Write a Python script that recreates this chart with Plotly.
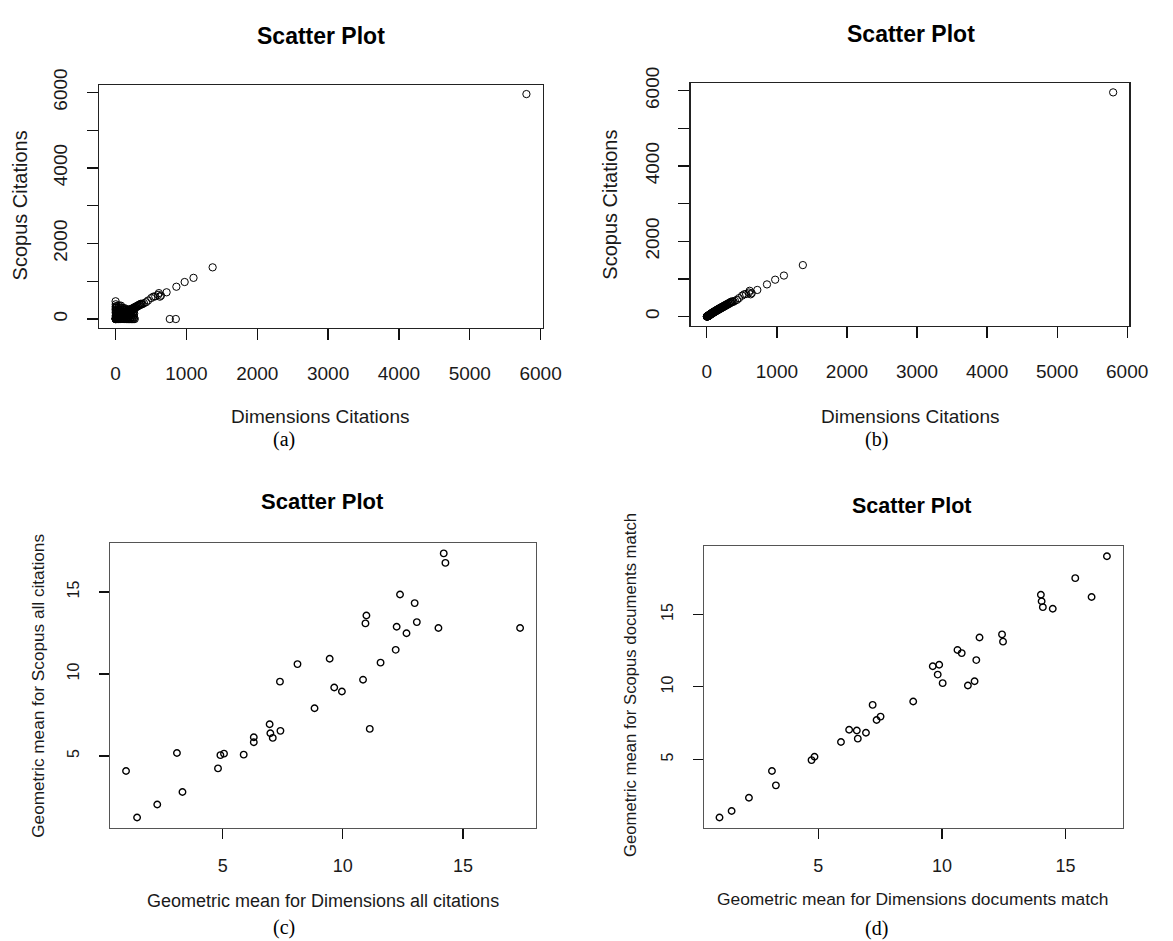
import plotly.graph_objects as go

# ---------------- DATA ----------------
# (b) documents matched in both sources: Dimensions vs Scopus citations
dim_match = [0, 1, 2, 3, 4, 5, 6, 7, 8, 9, 10, 11, 12, 13, 15, 16, 18, 19, 21, 22, 24, 25, 27, 28,
             30, 31, 33, 35, 36, 38, 40, 42, 44, 45, 47, 49, 51, 53, 55, 57, 60, 62, 64, 66, 69,
             71, 74, 76, 79, 81, 84, 87, 90, 93, 96, 99, 103, 106, 110, 113, 117, 120, 124, 128,
             132, 136, 140, 145, 150, 154, 159, 164, 169, 174, 180, 185, 191, 197, 203, 209, 216,
             222, 229, 236, 243, 250, 258, 265, 273, 281, 289, 297, 306, 314, 323, 331, 340, 348,
             357, 365, 380, 400, 430, 458, 504, 532, 560, 600, 611, 625, 640, 720, 858, 975, 1100,
             1370, 5800]
scop_match = [0, 2, 1, 5, 3, 8, 4, 10, 7, 12, 15, 9, 18, 14, 20, 12, 25, 17, 28, 19, 31, 22, 35, 26,
              38, 30, 42, 33, 46, 40, 52, 45, 58, 48, 62, 55, 66, 59, 72, 64, 78, 70, 84, 74, 90,
              80, 97, 86, 104, 92, 110, 98, 118, 105, 124, 112, 131, 119, 140, 127, 148, 135, 157, 144,
              166, 152, 176, 161, 186, 171, 197, 181, 208, 192, 220, 203, 232, 215, 245, 228, 258,
              241, 272, 255, 287, 270, 302, 286, 318, 302, 335, 319, 352, 337, 370, 355, 388, 374,
              405, 392, 395, 420, 445, 490, 557, 592, 600, 640, 686, 592, 620, 708, 855, 980, 1090,
              1368, 5955]

# (a) additional documents (all citations, including unmatched records)
dim_extra = [0, 2, 1, 3, 0, 4, 1, 6, 2, 5, 0,
             15, 30, 45, 60, 75, 90, 105, 120, 135, 150, 165, 180, 195, 210, 225, 240, 255, 270,
             765, 850,
             20, 48, 75, 102, 130, 158, 185, 212, 240, 262,
             10, 35, 62, 90, 118, 145, 172, 200, 228, 255,
             22, 50, 78, 105, 132, 160, 188, 215, 244, 262,
             8, 36, 64, 92, 120, 148, 176, 204, 232, 258,
             18, 46, 74, 102, 130, 158, 186, 214, 242,
             12, 40, 68, 96, 124, 15, 45, 75]
scop_extra = [470, 390, 330, 290, 250, 210, 170, 130, 90, 60, 30,
              0, 2, 0, 1, 0, 3, 0, 0, 2, 0, 1, 0, 0, 2, 0, 0, 1, 0,
              0, 0,
              55, 40, 60, 45, 58, 42, 55, 48, 52, 40,
              105, 95, 110, 98, 104, 92, 108, 96, 102, 94,
              150, 160, 145, 155, 148, 158, 146, 152, 160, 148,
              205, 198, 210, 195, 205, 200, 210, 196, 205, 200,
              250, 258, 245, 255, 248, 262, 250, 256, 248,
              305, 295, 310, 300, 290, 345, 360, 355]

# (c) geometric means, all citations
gm_dim_all = [0.97, 1.43, 2.27, 3.09, 3.32, 4.80, 4.90, 5.05, 5.87, 6.29, 6.29, 6.95, 6.98, 7.08,
              7.40, 7.38, 8.11, 8.82, 9.45, 9.64, 9.96, 10.84, 11.12, 10.98, 10.94, 11.57, 12.20,
              12.24, 12.38, 12.65, 12.99, 13.08, 13.98, 14.20, 14.27, 17.38]
gm_scop_all = [4.08, 1.25, 2.04, 5.18, 2.80, 4.24, 5.05, 5.14, 5.08, 6.14, 5.84, 6.93, 6.38, 6.10,
               6.53, 9.53, 10.60, 7.91, 10.93, 9.17, 8.93, 9.65, 6.65, 13.56, 13.08, 10.69, 11.47,
               12.88, 14.84, 12.48, 14.32, 13.16, 12.80, 17.35, 16.77, 12.80]

# (d) geometric means, matched documents
gm_dim_match = [1.01, 1.50, 2.20, 3.13, 3.29, 4.73, 4.85, 5.92, 6.25, 6.56, 6.60, 6.93, 7.20, 7.36,
                7.52, 8.84, 9.63, 9.89, 9.83, 10.03, 10.63, 10.80, 11.52, 11.39, 11.05, 11.32,
                12.43, 12.47, 14.00, 14.03, 14.08, 14.48, 15.39, 16.05, 16.67]
gm_scop_match = [0.99, 1.44, 2.35, 4.20, 3.21, 4.95, 5.18, 6.20, 7.04, 6.99, 6.43, 6.84, 8.76, 7.72,
                 7.95, 8.99, 11.42, 11.53, 10.85, 10.26, 12.55, 12.33, 13.41, 11.85, 10.10, 10.39,
                 13.62, 13.12, 16.36, 15.91, 15.50, 15.39, 17.50, 16.20, 19.01]

ticks_big = [0, 1000, 2000, 3000, 4000, 5000, 6000]
ticks_big_ylabels = ["0", "", "2000", "", "4000", "", "6000"]
ticks_small = [5, 10, 15]

titles = ["Scatter Plot", "Scatter Plot", "Scatter Plot", "Scatter Plot"]
xtitles = ["Dimensions Citations", "Dimensions Citations",
           "Geometric mean for Dimensions all citations",
           "Geometric mean for Dimensions documents match"]
ytitles = ["Scopus Citations", "Scopus Citations",
           "Geometric mean for Scopus all citations",
           "Geometric mean for Scopus documents match"]
panel_labels = ["(a)", "(b)", "(c)", "(d)"]

# ---------------- LAYOUT ----------------
W, H = 1173, 941
def px(x):
    return x / W
def py(y):
    return 1 - y / H

SANS = "Liberation Sans, Arial, Helvetica, sans-serif"
SERIF = "Liberation Serif, Times New Roman, serif"

# plot-area boxes in pixels: (left, right, top, bottom)
boxes = [(100.8, 551.8, 70, 317.5),
         (702, 1148, 68.3, 315),
         (112, 545, 536, 826),
         (715.5, 1141, 539, 826)]
xranges = [[-232, 6032], [-232, 6032], [0.31, 18.05], [0.38, 17.3]]
yranges = [[-240, 6200], [-240, 6200], [0.61, 17.99], [0.27, 19.73]]
x_standoff = [17, 17, 11, 11]
y_standoff = [12, 12, 13, 13]

fig = go.Figure()

series = [
    (dim_match + dim_extra, scop_match + scop_extra, 7.3, 1.0),
    (dim_match, scop_match, 7.3, 1.0),
    (gm_dim_all, gm_scop_all, 6.5, 1.4),
    (gm_dim_match, gm_scop_match, 6.5, 1.4),
]
for i, (xs, ys, msize, mlw) in enumerate(series):
    sfx = "" if i == 0 else str(i + 1)
    fig.add_trace(go.Scatter(
        x=xs, y=ys, mode="markers", xaxis="x" + sfx, yaxis="y" + sfx,
        marker=dict(symbol="circle-open", size=msize, color="black",
                    line=dict(width=mlw, color="black")),
        showlegend=False, hoverinfo="skip"))

layout = dict(width=W, height=H, margin=dict(l=0, r=0, t=0, b=0),
              paper_bgcolor="white", plot_bgcolor="white", showlegend=False)

for i in range(4):
    l, r, t, b = boxes[i]
    sfx = "" if i == 0 else str(i + 1)
    big = i < 2
    boxcol = "#222222" if big else "#555555"
    common = dict(showline=True, mirror=True, linecolor=boxcol, linewidth=1.3,
                  ticks="outside", tickcolor="#111111", tickwidth=1.2,
                  ticklen=11 if big else 10,
                  showgrid=False, zeroline=False, fixedrange=True)
    xa = dict(common, domain=[px(l), px(r)], range=xranges[i],
              anchor="y" + sfx,
              tickvals=ticks_big if big else ticks_small,
              ticktext=[str(v) for v in (ticks_big if big else ticks_small)],
              tickfont=dict(family=SANS, size=19 if big else 18, color="#1a1a1a"),
              ticklabelstandoff=x_standoff[i])
    ya = dict(common, domain=[py(b), py(t)], range=yranges[i],
              anchor="x" + sfx,
              tickvals=ticks_big if big else ticks_small,
              ticktext=ticks_big_ylabels if big else [str(v) for v in ticks_small],
              tickangle=-90,
              tickfont=dict(family=SANS, size=19 if big else 16, color="#1a1a1a"),
              ticklabelstandoff=y_standoff[i])
    layout["xaxis" + sfx] = xa
    layout["yaxis" + sfx] = ya

fig.update_layout(**layout)

# annotation positions (pixels)
title_pos = [(326, 20, 23), (926, 18, 23), (328, 494, 22), (926, 498, 21.5)]
xt_pos = [(325, 407, 19), (925, 407, 19), (328, 900, 18), (928, 898, 17.4)]
yt_pos = [(20, 193, 20), (620, 192, 20), (39, 681, 17.2), (641, 681, 16.7)]
lab_pos = [(289, 431), (891, 431), (289, 927), (891, 928)]

for i in range(4):
    x, y, s = title_pos[i]
    fig.add_annotation(x=px(x), y=py(y), xref="paper", yref="paper", text="<b>" + titles[i] + "</b>",
                       showarrow=False, font=dict(family=SANS, size=s, color="black"),
                       xanchor="center", yanchor="middle")
    x, y, s = xt_pos[i]
    fig.add_annotation(x=px(x), y=py(y), xref="paper", yref="paper", text=xtitles[i],
                       showarrow=False, font=dict(family=SANS, size=s, color="#1a1a1a"),
                       xanchor="center", yanchor="middle")
    x, y, s = yt_pos[i]
    fig.add_annotation(x=px(x), y=py(y), xref="paper", yref="paper", text=ytitles[i],
                       showarrow=False, textangle=-90,
                       font=dict(family=SANS, size=s, color="#1a1a1a"),
                       xanchor="center", yanchor="middle")
    x, y = lab_pos[i]
    fig.add_annotation(x=px(x), y=py(y), xref="paper", yref="paper", text=panel_labels[i],
                       showarrow=False, font=dict(family=SERIF, size=20, color="black"),
                       xanchor="center", yanchor="middle")

# remove the browser's default 8px page margin so the figure sits at (0, 0); hide the modebar
fig.write_html("out.html",
               config={"displayModeBar": False, "staticPlot": True},
               post_script="document.body.style.margin='0px';document.body.style.overflow='hidden';")
